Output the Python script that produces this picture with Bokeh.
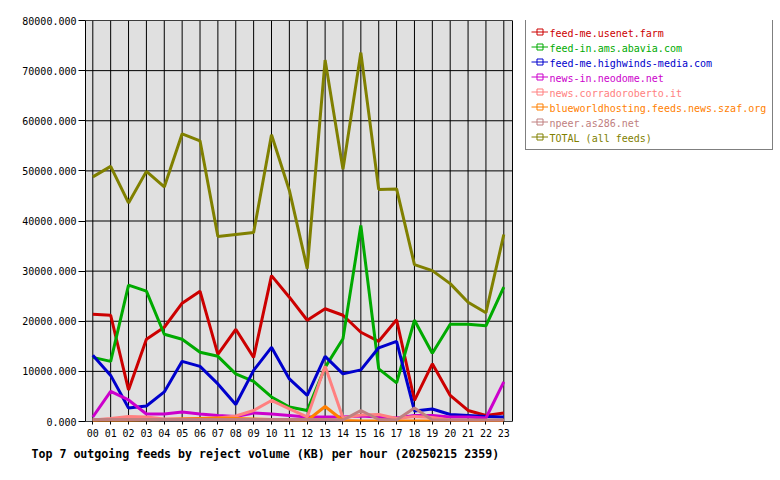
from bokeh.plotting import figure
from bokeh.models import (Range1d, FixedTicker, PrintfTickFormatter, Legend,
                          LegendItem, Title)
from bokeh.core.properties import value
from bokeh.embed import file_html
from bokeh.resources import INLINE

hours = ["%02d" % h for h in range(24)]
yticks = [0, 10000, 20000, 30000, 40000, 50000, 60000, 70000, 80000]

names = ["feed-me.usenet.farm", "feed-in.ams.abavia.com",
         "feed-me.highwinds-media.com", "news-in.neodome.net",
         "news.corradoroberto.it", "blueworldhosting.feeds.news.szaf.org",
         "npeer.as286.net", "TOTAL (all feeds)"]
colors = ["#cc0000", "#00aa00", "#0000cc", "#cc00cc", "#ff8080", "#ff8000",
          "#c08080", "#808000"]

usenet_farm = [21400, 21200, 6300, 16400, 18800, 23600, 26000, 13400, 18400, 12800,
               29100, 24800, 20200, 22500, 21200, 17800, 16000, 20300, 4200, 11500,
               5200, 2200, 1200, 1700]
abavia = [12800, 12000, 27200, 26000, 17400, 16400, 13800, 13000, 9500, 8000,
          4900, 2900, 2200, 10800, 16500, 39100, 10500, 7700, 20200, 13600,
          19400, 19400, 19100, 26800]
highwinds = [13200, 9200, 2700, 3100, 5900, 12000, 11000, 7500, 3400, 10200,
             14800, 8500, 5200, 13000, 9500, 10300, 14700, 16000, 2100, 2500,
             1400, 1200, 1000, 900]
neodome = [900, 6000, 4300, 1500, 1500, 1900, 1500, 1200, 1000, 1700,
           1500, 1200, 900, 900, 900, 1100, 900, 700, 1200, 1200,
           900, 900, 700, 7900]
corradoroberto = [300, 600, 1000, 900, 500, 500, 600, 700, 1100, 2200,
                  4200, 2500, 900, 11000, 700, 1300, 1400, 600, 1000, 800,
                  300, 200, 200, 200]
szaf = [100, 100, 200, 300, 400, 500, 600, 700, 600, 500,
        400, 300, 200, 3000, 200, 100, 100, 100, 100, 100,
        100, 100, 100, 100]
as286 = [400, 400, 400, 400, 400, 400, 400, 400, 400, 400,
         400, 400, 400, 400, 300, 2200, 400, 300, 2700, 300,
         300, 300, 300, 300]
total = [48800, 50900, 43600, 49900, 46800, 57400, 56000, 36900, 37300, 37700,
         57200, 46100, 30500, 72100, 50300, 73600, 46300, 46400, 31300, 30100,
         27500, 23800, 21700, 37300]

series = [usenet_farm, abavia, highwinds, neodome, corradoroberto, szaf, as286, total]
title_text = "Top 7 outgoing feeds by reject volume (KB) per hour (20250215 2359)"

FONT = "DejaVu Sans Mono"
NAN = float("nan")

# layout (pixels)
frame_left, frame_right, frame_top, frame_bottom = 85, 773, 20, 421
px_per_hour = 17.87
x0_px = 92.3                      # pixel of hour 00
area_right_px = 512               # right edge of the plotting area
x_start = -(x0_px - frame_left) / px_per_hour
x_end = x_start + (frame_right - frame_left) / px_per_hour
area_right = (area_right_px - x0_px) / px_per_hour
y_per_px = (yticks[-1] - yticks[0]) / (frame_bottom - frame_top)


def px_to_x(px):
    return x_start + (px - frame_left) / px_per_hour


def px_to_y(py):
    return (frame_bottom - py) * y_per_px


p = figure(width=780, height=480, output_backend="svg", toolbar_location=None,
           title=None,
           x_range=Range1d(x_start, x_end), y_range=Range1d(yticks[0], yticks[-1]),
           min_border_left=frame_left, min_border_right=780 - frame_right,
           min_border_top=frame_top, min_border_bottom=480 - frame_bottom,
           background_fill_color="white", border_fill_color="white",
           outline_line_color=None)
p.xgrid.visible = False
p.ygrid.visible = False

xs = list(range(len(hours)))

# plotting area background and grid
p.quad(left=[x_start], right=[area_right], bottom=[yticks[0]], top=[yticks[-1]],
       fill_color="#e0e0e0", line_color=None)
p.segment(x0=xs, x1=xs, y0=[yticks[0]] * len(xs), y1=[yticks[-1]] * len(xs),
          line_color="black", line_width=1)
p.segment(x0=[x_start] * len(yticks), x1=[area_right] * len(yticks),
          y0=yticks, y1=yticks, line_color="black", line_width=1)
p.quad(left=[x_start], right=[area_right], bottom=[yticks[0]], top=[yticks[-1]],
       fill_color=None, line_color="black", line_width=1)

items = []
for name, col, ys in zip(names, colors, series):
    p.line(xs, ys, line_color=col, line_width=3)
    # thin legend samples (no visible data)
    lr = p.line(x=[NAN], y=[NAN], line_color=col, line_width=1)
    m = p.scatter(x=[NAN], y=[NAN], marker="square", size=4, fill_alpha=0,
                  line_color=col, line_width=1)
    items.append(LegendItem(label=" ", renderers=[lr, m]))

# legend texts (coloured per feed)
label_x = px_to_x(549)
label_ys = [px_to_y(32.5 + 15 * i) for i in range(len(names))]
p.text(x=[label_x] * len(names), y=label_ys, text=names, text_color=colors,
       text_font=value(FONT), text_font_size="10px",
       text_baseline="middle", text_align="left")

# axes
p.xaxis.ticker = FixedTicker(ticks=xs)
p.xaxis.major_label_overrides = {i: h for i, h in enumerate(hours)}
p.yaxis.ticker = FixedTicker(ticks=yticks)
p.yaxis.formatter = PrintfTickFormatter(format="%.3f")
for ax in (p.xaxis, p.yaxis):
    ax.axis_line_color = "black"
    ax.major_tick_line_color = "black"
    ax.minor_tick_line_color = None
    ax.major_tick_in = 0
    ax.major_label_text_font = FONT
    ax.major_label_text_font_size = "10px"
    ax.major_label_text_color = "black"
p.xaxis.axis_line_color = None
p.yaxis.major_tick_out = 7
p.yaxis.major_label_standoff = 2
p.xaxis.major_tick_out = 3
p.xaxis.major_label_standoff = 4

# legend box with glyph samples (transparent so texts beneath show)
legend = Legend(items=items, location=(525 - frame_left, frame_bottom - 150),
                orientation="vertical",
                border_line_color="black", border_line_width=1,
                background_fill_alpha=0,
                padding=5, spacing=0, margin=0,
                glyph_width=17, glyph_height=15, label_height=15,
                label_width=217, label_standoff=2,
                label_text_font=FONT, label_text_font_size="10px")
p.add_layout(legend)

t = Title(text=title_text, align="left", offset=-54, text_font=FONT,
          text_font_size="11.6px", text_font_style="bold", text_color="black")
p.add_layout(t, "below")

open("out.html", "w").write(file_html(p, INLINE))
